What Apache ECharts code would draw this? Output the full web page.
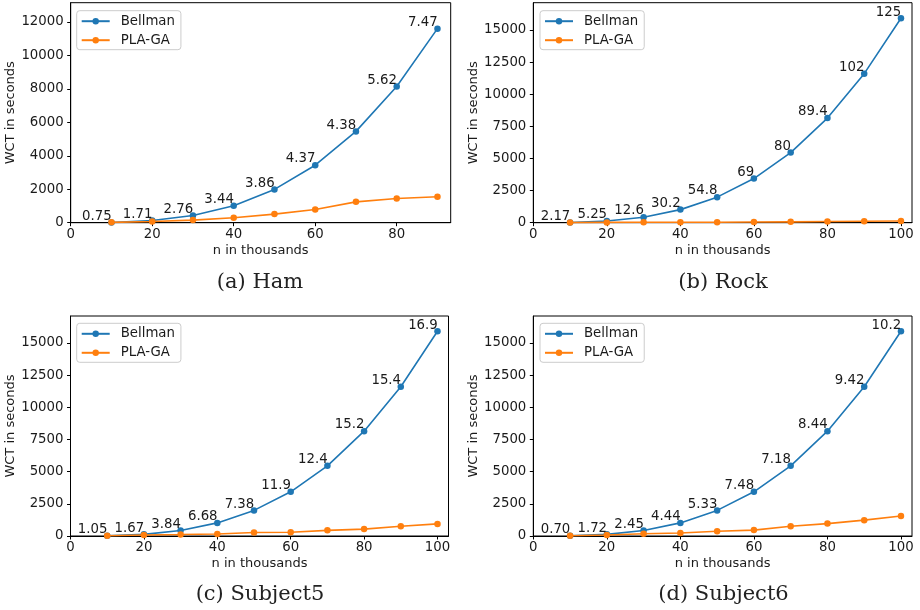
<!DOCTYPE html>
<html><head><meta charset="utf-8">
<script src="https://cdn.jsdelivr.net/npm/echarts@6/dist/echarts.min.js"></script>
<style>html,body{margin:0;padding:0;background:#fff}#c{width:920px;height:610px}</style>
</head><body><div id="c"></div>
<script>
// ---------- data ----------
const nHam = [10, 20, 30, 40, 50, 60, 70, 80, 90];
const n100 = [10, 20, 30, 40, 50, 60, 70, 80, 90, 100];

const bellmanHam = [16, 127, 430, 1018, 1989, 3437, 5457, 8146, 11600];
const plaHam     = [21, 74, 156, 296, 515, 786, 1246, 1449, 1553];
const labelsHam  = ['0.75', '1.71', '2.76', '3.44', '3.86', '4.37', '4.38', '5.62', '7.47'];

const bellmanRock = [16, 127, 430, 1018, 1989, 3437, 5457, 8146, 11600, 15910];
const plaRock     = [7, 24, 34, 34, 36, 50, 68, 91, 114, 127];
const labelsRock  = ['2.17', '5.25', '12.6', '30.2', '54.8', '69', '80', '89.4', '102', '125'];

const bellmanS5 = [16, 127, 430, 1018, 1989, 3437, 5457, 8146, 11600, 15910];
const plaS5     = [15, 76, 112, 152, 270, 289, 440, 536, 753, 941];
const labelsS5  = ['1.05', '1.67', '3.84', '6.68', '7.38', '11.9', '12.4', '15.2', '15.4', '16.9'];

const bellmanS6 = [16, 127, 430, 1018, 1989, 3437, 5457, 8146, 11600, 15910];
const plaS6     = [23, 74, 176, 229, 373, 459, 760, 965, 1231, 1560];
const labelsS6  = ['0.70', '1.72', '2.45', '4.44', '5.33', '7.48', '7.18', '8.44', '9.42', '10.2'];

const xTicksHam = [0, 20, 40, 60, 80];
const xTicks100 = [0, 20, 40, 60, 80, 100];
const yTicksHam = [0, 2000, 4000, 6000, 8000, 10000, 12000];
const yTicks15k = [0, 2500, 5000, 7500, 10000, 12500, 15000];

const seriesNames = ['Bellman', 'PLA-GA'];
const captions = ['(a) Ham', '(b) Rock', '(c) Subject5', '(d) Subject6'];

// ---------- layout ----------
const FONT = '"DejaVu Sans", sans-serif';
const BLUE = '#1f77b4', ORANGE = '#ff7f0e', TXT = '#1a1a1a';

const panels = [
  { n: nHam, bell: bellmanHam, pla: plaHam, labels: labelsHam, xTicks: xTicksHam, yTicks: yTicksHam, xMax: 93.25, yMax: 13150,
    grid: { left: 70.7, top: 2.7, width: 380, height: 220 }, leg: { left: 76.7, top: 10.7 }, cap: [260, 282.5] },
  { n: n100, bell: bellmanRock, pla: plaRock, labels: labelsRock, xTicks: xTicks100, yTicks: yTicks15k, xMax: 103, yMax: 17125,
    grid: { left: 533.3, top: 2.7, width: 378.7, height: 220 }, leg: { left: 540, top: 10.7 }, cap: [723, 282.5] },
  { n: n100, bell: bellmanS5, pla: plaS5, labels: labelsS5, xTicks: xTicks100, yTicks: yTicks15k, xMax: 103, yMax: 17100,
    grid: { left: 70.5, top: 316, width: 378, height: 220 }, leg: { left: 76.7, top: 323.3 }, cap: [260, 595] },
  { n: n100, bell: bellmanS6, pla: plaS6, labels: labelsS6, xTicks: xTicks100, yTicks: yTicks15k, xMax: 103, yMax: 17100,
    grid: { left: 533.3, top: 316, width: 378.7, height: 220 }, leg: { left: 540, top: 323.3 }, cap: [723.5, 595] }
];

const grids = [], xAxes = [], yAxes = [], series = [], legends = [], graphics = [];
panels.forEach((p, i) => {
  grids.push(Object.assign({ show: true, borderColor: '#000', borderWidth: 1, backgroundColor: 'transparent' }, p.grid));
  xAxes.push({
    type: 'value', gridIndex: i, min: 0, max: p.xMax, interval: 20,
    axisLine: { onZero: false, lineStyle: { color: '#000', width: 1 } },
    axisTick: { show: true, length: 3.5, lineStyle: { color: '#000' }, customValues: p.xTicks },
    axisLabel: { customValues: p.xTicks, margin: 5, fontSize: 13.3, color: TXT, fontFamily: FONT,
      formatter: (v) => String(v) },
    splitLine: { show: false },
    name: 'n in thousands', nameLocation: 'middle', nameGap: 21,
    nameTextStyle: { fontSize: 13, color: TXT, fontFamily: FONT }
  });
  yAxes.push({
    type: 'value', gridIndex: i, min: 0, max: p.yMax,
    axisLine: { show: true, onZero: false, lineStyle: { color: '#000', width: 1 } },
    axisTick: { show: true, length: 3.5, lineStyle: { color: '#000' }, customValues: p.yTicks },
    axisLabel: { customValues: p.yTicks, margin: 7, fontSize: 13.3, color: TXT, fontFamily: FONT,
      formatter: (v) => String(v) },
    splitLine: { show: false },
    name: 'WCT in seconds', nameLocation: 'middle', nameGap: 50,
    nameTextStyle: { fontSize: 13, color: TXT, fontFamily: FONT }
  });
  const mk = (name, color, vals, withLabel) => ({
    type: 'line', name, xAxisIndex: i, yAxisIndex: i,
    data: p.n.map((x, j) => [x, vals[j]]),
    symbol: 'circle', symbolSize: 6.5, showSymbol: true,
    lineStyle: { color, width: 1.6 }, itemStyle: { color },
    emphasis: { disabled: true },
    label: withLabel ? {
      show: true, formatter: (q) => p.labels[q.dataIndex],
      position: [3.5, -3], align: 'right', verticalAlign: 'middle',
      fontSize: 13.3, color: TXT, fontFamily: FONT
    } : { show: false },
    labelLayout: { hideOverlap: false },
    z: name === 'Bellman' ? 2 : 3
  });
  series.push(mk('Bellman', BLUE, p.bell, true));
  series.push(mk('PLA-GA', ORANGE, p.pla, false));
  legends.push({
    left: p.leg.left, top: p.leg.top, orient: 'vertical', data: seriesNames,
    itemWidth: 28, itemHeight: 8, itemGap: 6, padding: [4, 6, 3, 4],
    borderColor: '#cccccc', borderWidth: 1, borderRadius: 3,
    backgroundColor: 'rgba(255,255,255,0.8)',
    lineStyle: { width: 2 },
    textStyle: { fontSize: 13.3, color: TXT, fontFamily: FONT, padding: [0, 0, 0, 6] }
  });
  graphics.push({
    type: 'text', x: p.cap[0], y: p.cap[1],
    style: { text: captions[i], textAlign: 'center', textVerticalAlign: 'middle',
      font: '21px "DejaVu Serif", serif', fill: '#222' }
  });
});

const chart = echarts.init(document.getElementById('c'), null, { renderer: 'canvas' });
chart.setOption({
  animation: false,
  backgroundColor: '#fff',
  grid: grids, xAxis: xAxes, yAxis: yAxes, series, legend: legends,
  graphic: graphics
});
</script>
</body></html>
